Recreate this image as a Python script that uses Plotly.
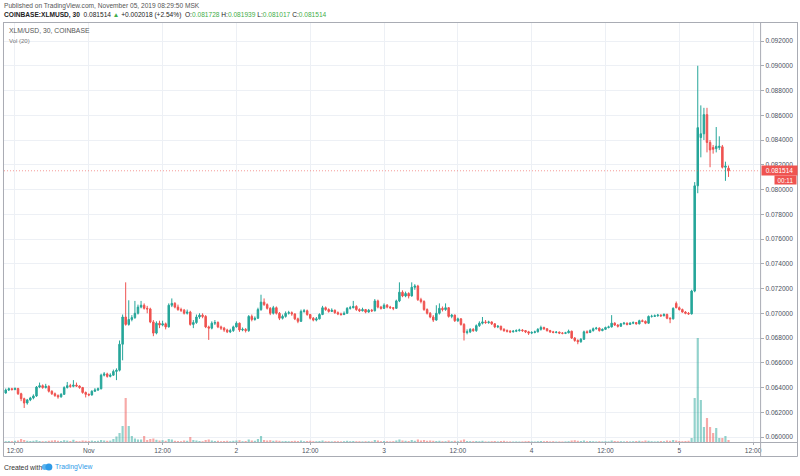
import pandas as pd
import plotly.graph_objects as go

# ---------------- data (prices in units of 0.00001 USD) ----------------
PRICE_UNIT = 1e-5
START = "2019-10-31 10:00"

opens = [
    6404, 6356, 6380, 6390, 6384, 6392, 6350, 6310, 6275, 6300,
    6316, 6332, 6404, 6415, 6400, 6410, 6370, 6350, 6335, 6325,
    6345, 6400, 6415, 6410, 6420, 6412, 6400, 6360, 6345, 6340,
    6370, 6380, 6390, 6500, 6510, 6490, 6500, 6530, 6540, 6750,
    6970, 6910, 6950, 6965, 7000, 7050, 7065, 7040, 7035, 6930,
    6840, 6920, 6905, 6915, 6890, 7065, 7080, 7050, 7030, 7025,
    7000, 7010, 6910, 6925, 6970, 6985, 6975, 6890, 6880, 6920,
    6925, 6890, 6880, 6865, 6850, 6860, 6890, 6920, 6865, 6870,
    6860, 6975, 6950, 6960, 7030, 7090, 7070, 7040, 7000, 7045,
    7000, 6960, 6975, 7000, 7005, 6995, 6955, 6935, 7015, 7020,
    6990, 6960, 6945, 6955, 6990, 7045, 7030, 7015, 7025, 7005,
    6995, 6990, 7000, 7040, 7045, 7055, 7030, 7020, 7030, 7010,
    7025, 7020, 7100, 7050, 7040, 7065, 7050, 7045, 7040, 7100,
    7170, 7140, 7160, 7140, 7210, 7220, 7110, 7095, 7030, 7000,
    6970, 6945, 7000, 7040, 7030, 7045, 6975, 6985, 6940, 6955,
    6910, 6845, 6850, 6870, 6860, 6900, 6920, 6930, 6925, 6930,
    6915, 6890, 6895, 6870, 6860, 6855, 6850, 6855, 6860, 6865,
    6860, 6850, 6840, 6845, 6850, 6870, 6885, 6875, 6860, 6850,
    6845, 6848, 6840, 6838, 6842, 6855, 6800, 6780, 6770, 6790,
    6850, 6845, 6860, 6875, 6880, 6860, 6870, 6885, 6890, 6920,
    6905, 6895, 6915, 6920, 6910, 6920, 6925, 6915, 6940, 6935,
    6920, 6975, 6975, 6980, 6985, 6980, 6990, 6960, 6955, 7080,
    7045, 7030, 7010, 7000, 6995, 7180, 8030, 8420, 8450, 8605,
    8380, 8340, 8330, 8340, 8345, 8180, 8172.8,
]

highs = [
    6420, 6392, 6400, 6398, 6402, 6398, 6358, 6318, 6308, 6325,
    6345, 6412, 6440, 6425, 6430, 6418, 6378, 6360, 6345, 6355,
    6410, 6445, 6430, 6460, 6440, 6418, 6405, 6368, 6352, 6378,
    6395, 6400, 6512, 6525, 6520, 6515, 6545, 6555, 6780, 6990,
    7250, 7105, 6985, 7100, 7070, 7100, 7080, 7060, 7045, 6945,
    6935, 6940, 6940, 6925, 7080, 7120, 7090, 7070, 7045, 7035,
    7030, 7020, 6945, 6990, 7000, 7000, 6985, 6900, 6935, 6945,
    6935, 6900, 6890, 6875, 6875, 6900, 6935, 6925, 6885, 6880,
    6985, 6990, 6975, 7045, 7150, 7120, 7080, 7050, 7060, 7055,
    7010, 6990, 7015, 7020, 7015, 7000, 6965, 7030, 7035, 7030,
    6995, 6970, 6970, 7000, 7060, 7055, 7040, 7040, 7030, 7015,
    7005, 7015, 7050, 7060, 7100, 7065, 7040, 7045, 7035, 7035,
    7035, 7115, 7110, 7060, 7080, 7075, 7060, 7050, 7110, 7250,
    7185, 7175, 7170, 7250, 7235, 7230, 7125, 7105, 7040, 7010,
    6985, 7065, 7080, 7055, 7080, 7050, 6995, 6990, 6965, 6960,
    6920, 6870, 6880, 6880, 6910, 6935, 6970, 6945, 6940, 6935,
    6920, 6905, 6900, 6880, 6870, 6865, 6865, 6870, 6875, 6872,
    6865, 6858, 6855, 6860, 6880, 6900, 6892, 6880, 6866, 6858,
    6856, 6852, 6848, 6850, 6868, 6860, 6808, 6790, 6800, 6860,
    6862, 6870, 6885, 6890, 6886, 6878, 6892, 6900, 6985, 6928,
    6912, 6922, 6930, 6926, 6928, 6935, 6930, 6948, 6950, 6942,
    6982, 6988, 6990, 6995, 6992, 7000, 6998, 6968, 7048, 7095,
    7055, 7038, 7018, 7010, 7190, 8060, 9000, 8680, 8660, 8660,
    8400, 8360, 8505, 8430, 8360, 8225, 8193.9,
]

lows = [
    6345, 6350, 6372, 6375, 6378, 6340, 6290, 6235, 6262, 6290,
    6305, 6325, 6395, 6390, 6392, 6360, 6340, 6325, 6310, 6318,
    6340, 6392, 6398, 6402, 6405, 6390, 6350, 6320, 6330, 6335,
    6365, 6372, 6385, 6490, 6480, 6482, 6495, 6460, 6530, 6620,
    6900, 6900, 6935, 6955, 6990, 7040, 7030, 7000, 6920, 6815,
    6830, 6880, 6895, 6870, 6885, 7050, 7040, 7020, 7010, 6990,
    6990, 6900, 6880, 6915, 6955, 6960, 6880, 6785, 6870, 6905,
    6880, 6865, 6850, 6840, 6840, 6850, 6885, 6850, 6855, 6845,
    6850, 6935, 6940, 6955, 7020, 7060, 7030, 6985, 6990, 6990,
    6945, 6950, 6965, 6990, 6980, 6945, 6920, 6930, 7005, 6980,
    6950, 6935, 6935, 6950, 6985, 7020, 7005, 7010, 6995, 6985,
    6980, 6985, 6995, 7030, 7040, 7020, 7010, 7015, 7000, 7005,
    7010, 7015, 7040, 7030, 7035, 7040, 7035, 7025, 7035, 7090,
    7130, 7130, 7120, 7135, 7190, 7100, 7080, 7020, 6990, 6960,
    6930, 6940, 6990, 7015, 7020, 6965, 6960, 6930, 6930, 6900,
    6780, 6830, 6840, 6850, 6850, 6890, 6910, 6915, 6915, 6905,
    6880, 6880, 6860, 6850, 6845, 6840, 6845, 6848, 6852, 6850,
    6840, 6825, 6832, 6838, 6845, 6860, 6865, 6852, 6842, 6838,
    6838, 6832, 6830, 6832, 6838, 6792, 6770, 6750, 6762, 6785,
    6835, 6840, 6852, 6868, 6852, 6855, 6865, 6878, 6885, 6898,
    6885, 6890, 6908, 6902, 6905, 6912, 6908, 6910, 6928, 6912,
    6915, 6965, 6970, 6972, 6970, 6975, 6952, 6920, 6950, 7040,
    7022, 7005, 6992, 6988, 6990, 7170, 7970, 8260, 8400, 8300,
    8180, 8290, 8300, 8320, 8170, 8070, 8101.7,
]

closes = [
    6356, 6380, 6390, 6384, 6392, 6350, 6310, 6275, 6300, 6316,
    6332, 6404, 6415, 6400, 6410, 6370, 6350, 6335, 6325, 6345,
    6400, 6415, 6410, 6420, 6412, 6400, 6360, 6345, 6340, 6370,
    6380, 6390, 6500, 6510, 6490, 6500, 6530, 6540, 6750, 6970,
    6910, 6950, 6965, 7000, 7050, 7065, 7040, 7035, 6930, 6840,
    6920, 6905, 6915, 6890, 7065, 7080, 7050, 7030, 7025, 7000,
    7010, 6910, 6925, 6970, 6985, 6975, 6890, 6880, 6920, 6925,
    6890, 6880, 6865, 6850, 6860, 6890, 6920, 6865, 6870, 6860,
    6975, 6950, 6960, 7030, 7090, 7070, 7040, 7000, 7045, 7000,
    6960, 6975, 7000, 7005, 6995, 6955, 6935, 7015, 7020, 6990,
    6960, 6945, 6955, 6990, 7045, 7030, 7015, 7025, 7005, 6995,
    6990, 7000, 7040, 7045, 7055, 7030, 7020, 7030, 7010, 7025,
    7020, 7100, 7050, 7040, 7065, 7050, 7045, 7040, 7100, 7170,
    7140, 7160, 7140, 7210, 7220, 7110, 7095, 7030, 7000, 6970,
    6945, 7000, 7040, 7030, 7045, 6975, 6985, 6940, 6955, 6910,
    6845, 6850, 6870, 6860, 6900, 6920, 6930, 6925, 6930, 6915,
    6890, 6895, 6870, 6860, 6855, 6850, 6855, 6860, 6865, 6860,
    6850, 6840, 6845, 6850, 6870, 6885, 6875, 6860, 6850, 6845,
    6848, 6840, 6838, 6842, 6855, 6800, 6780, 6770, 6790, 6850,
    6845, 6860, 6875, 6880, 6860, 6870, 6885, 6890, 6920, 6905,
    6895, 6915, 6920, 6910, 6920, 6925, 6915, 6940, 6935, 6920,
    6975, 6975, 6980, 6985, 6980, 6990, 6960, 6955, 7040, 7045,
    7030, 7010, 7000, 6995, 7180, 8030, 8500, 8450, 8605, 8380,
    8320, 8325, 8350, 8350, 8180, 8190, 8151.4,
]

volumes = [
    15, 8, 10, 8, 12, 15, 30, 20, 12, 10,
    12, 18, 10, 8, 8, 12, 15, 18, 12, 10,
    18, 14, 10, 22, 10, 8, 15, 12, 10, 14,
    10, 12, 20, 15, 12, 14, 30, 55, 90, 160,
    440, 160, 60, 35, 25, 25, 60, 20, 30, 35,
    22, 15, 18, 12, 30, 25, 12, 10, 8, 15,
    12, 50, 20, 15, 10, 8, 20, 25, 15, 10,
    12, 8, 10, 12, 8, 12, 15, 18, 8, 10,
    25, 15, 12, 30, 60, 20, 15, 18, 12, 15,
    12, 8, 10, 8, 10, 12, 10, 15, 8, 10,
    12, 8, 8, 10, 15, 8, 8, 6, 8, 8,
    6, 8, 12, 8, 10, 8, 8, 6, 8, 8,
    6, 20, 15, 8, 10, 8, 6, 8, 15, 25,
    15, 12, 10, 20, 12, 25, 15, 20, 12, 15,
    12, 10, 12, 8, 8, 15, 8, 12, 8, 15,
    25, 10, 8, 8, 10, 8, 12, 6, 6, 8,
    10, 6, 10, 12, 6, 6, 5, 6, 5, 6,
    8, 10, 6, 5, 8, 10, 8, 10, 6, 8,
    5, 6, 5, 6, 8, 15, 18, 12, 10, 15,
    8, 10, 8, 6, 8, 6, 8, 6, 15, 10,
    8, 8, 6, 8, 6, 8, 10, 12, 8, 15,
    12, 8, 6, 8, 10, 8, 15, 12, 20, 15,
    10, 8, 10, 12, 40, 440, 1040, 420, 150, 240,
    150, 90, 140, 40, 40, 60, 20,
]

x_tick_times = ["2019-10-31 12:00", "2019-11-01 00:00", "2019-11-01 12:00",
                "2019-11-02 00:00", "2019-11-02 12:00", "2019-11-03 00:00",
                "2019-11-03 12:00", "2019-11-04 00:00", "2019-11-04 12:00",
                "2019-11-05 00:00", "2019-11-05 12:00"]
x_tick_text = ["12:00", "Nov", "12:00", "2", "12:00", "3", "12:00", "4",
               "12:00", "5", "12:00"]
y_tick_vals = [0.060, 0.062, 0.064, 0.066, 0.068, 0.070, 0.072, 0.074,
               0.076, 0.078, 0.080, 0.082, 0.084, 0.086, 0.088, 0.090, 0.092]
y_tick_text = ["%.6f" % v for v in y_tick_vals]

# ---------------- styles ----------------
UP = "#26a69a"
DOWN = "#ef5350"
UP_VOL = "rgba(38,166,154,0.5)"
DOWN_VOL = "rgba(239,83,80,0.5)"
GRID = "#edf0f5"
FRAME = "#a9acb4"
TXT = "#4c525e"
FONT = "Liberation Sans, Arial, sans-serif"

W, H = 800, 476
PX_L, PX_R, PX_T, PX_B = 4, 762, 22, 442

o = [v * PRICE_UNIT for v in opens]
h = [v * PRICE_UNIT for v in highs]
l = [v * PRICE_UNIT for v in lows]
c = [v * PRICE_UNIT for v in closes]
times = pd.date_range(START, periods=len(closes), freq="30min")
vol_colors = [UP_VOL if cc >= oo else DOWN_VOL for oo, cc in zip(o, c)]

fig = go.Figure()
fig.add_trace(go.Bar(
    x=times, y=volumes, marker=dict(color=vol_colors, line=dict(width=0)),
    width=30 * 60 * 1000 * 0.7, xaxis="x", yaxis="y", hoverinfo="skip",
))
fig.add_trace(go.Candlestick(
    x=times, open=o, high=h, low=l, close=c, xaxis="x", yaxis="y2",
    increasing=dict(line=dict(color=UP, width=1), fillcolor=UP),
    decreasing=dict(line=dict(color=DOWN, width=1), fillcolor=DOWN),
    whiskerwidth=0,
))

def px_x(px):
    return px / W

def px_y(py):
    return 1 - py / H

last_price = c[-1]
last_color = UP if c[-1] >= o[-1] else DOWN

shapes = [
    # dotted last-price line
    dict(type="line", xref="paper", yref="y2", x0=px_x(PX_L), x1=px_x(PX_R),
         y0=last_price, y1=last_price,
         line=dict(color="rgba(239,83,80,0.6)", width=1, dash="1px,2px")),
    # frame
    dict(type="line", xref="paper", yref="paper", x0=px_x(3.5), x1=px_x(3.5),
         y0=px_y(22), y1=px_y(456.5), line=dict(color=FRAME, width=1)),
    dict(type="line", xref="paper", yref="paper", x0=px_x(3.5), x1=px_x(799.5),
         y0=px_y(22.5), y1=px_y(22.5), line=dict(color=FRAME, width=1)),
    dict(type="line", xref="paper", yref="paper", x0=px_x(762.5), x1=px_x(762.5),
         y0=px_y(22), y1=px_y(456.5), line=dict(color=FRAME, width=1)),
    dict(type="line", xref="paper", yref="paper", x0=px_x(3.5), x1=px_x(799.5),
         y0=px_y(442.5), y1=px_y(442.5), line=dict(color=FRAME, width=1)),
    dict(type="line", xref="paper", yref="paper", x0=px_x(3.5), x1=px_x(799.5),
         y0=px_y(456.5), y1=px_y(456.5), line=dict(color=FRAME, width=1)),
    dict(type="line", xref="paper", yref="paper", x0=px_x(799.5), x1=px_x(799.5),
         y0=px_y(22), y1=px_y(456.5), line=dict(color=FRAME, width=1)),
    # small cloud logo next to "Created with"
    dict(type="circle", xref="paper", yref="paper", x0=px_x(42), x1=px_x(48),
         y0=px_y(470), y1=px_y(464), fillcolor="#5bb4ee", line=dict(width=0)),
    dict(type="circle", xref="paper", yref="paper", x0=px_x(45.5), x1=px_x(52.5),
         y0=px_y(470.5), y1=px_y(463.5), fillcolor="#2f9be8", line=dict(width=0)),
]

G = "#3fae49"
line2 = ("<b>COINBASE:XLMUSD, 30</b>  0.081514 <span style='color:%s'>▲</span> "
         "+0.002018 (+2.54%%)  O:<span style='color:%s'>0.081728</span> "
         "H:<span style='color:%s'>0.081939</span> L:<span style='color:%s'>0.081017</span> "
         "C:<span style='color:%s'>0.081514</span>") % (G, G, G, G, G)

annotations = [
    dict(text="Published on TradingView.com, November 05, 2019 08:29:50 MSK",
         xref="paper", yref="paper", x=px_x(2), y=px_y(6), xanchor="left",
         yanchor="middle", showarrow=False, font=dict(size=6.6, color="#555555")),
    dict(text=line2, xref="paper", yref="paper", x=px_x(2), y=px_y(15.5),
         xanchor="left", yanchor="middle", showarrow=False,
         font=dict(size=6.6, color="#222222")),
    dict(text="XLM/USD, 30, COINBASE", xref="paper", yref="paper", x=px_x(7),
         y=px_y(31), xanchor="left", yanchor="middle", showarrow=False,
         font=dict(size=6.8, color="#555555")),
    dict(text="Vol (20)", xref="paper", yref="paper", x=px_x(7), y=px_y(40.5),
         xanchor="left", yanchor="middle", showarrow=False,
         font=dict(size=6.0, color="#777777")),
    dict(text="%.6f" % last_price, xref="paper", yref="y2", x=px_x(763),
         y=last_price, xanchor="left", yanchor="middle", showarrow=False,
         bgcolor=last_color, width=35, height=9, borderpad=0,
         font=dict(size=6.5, color="white")),
    dict(text="00:11", xref="paper", yref="y2", x=px_x(775.5), y=last_price,
         yshift=-9.5, xanchor="left", yanchor="middle", showarrow=False,
         bgcolor=last_color, width=21, height=8, borderpad=0,
         font=dict(size=6.3, color="white")),
    dict(text="Created with", xref="paper", yref="paper", x=px_x(2), y=px_y(467),
         xanchor="left", yanchor="middle", showarrow=False,
         font=dict(size=6.8, color="#333333")),
    dict(text="TradingView", xref="paper", yref="paper", x=px_x(53), y=px_y(467),
         xanchor="left", yanchor="middle", showarrow=False,
         font=dict(size=6.8, color="#2f9be8")),
]

fig.update_layout(
    width=W, height=H, margin=dict(l=0, r=0, t=0, b=0),
    paper_bgcolor="white", plot_bgcolor="white", showlegend=False,
    font=dict(family=FONT, size=7, color=TXT),
    barmode="overlay",
    xaxis=dict(
        domain=[px_x(PX_L), px_x(PX_R)], type="date",
        range=["2019-10-31 10:13", "2019-11-05 13:08"],
        tickvals=x_tick_times, ticktext=x_tick_text,
        showgrid=True, gridcolor=GRID, gridwidth=1, zeroline=False,
        ticks="outside", ticklen=2, tickcolor=FRAME,
        tickfont=dict(size=6.6, color=TXT), showline=False,
        rangeslider=dict(visible=False), fixedrange=True,
    ),
    yaxis=dict(
        domain=[1 - PX_B / H, 1 - PX_T / H], range=[0, 4200], visible=False,
        showgrid=False, zeroline=False, fixedrange=True,
    ),
    yaxis2=dict(
        overlaying="y", side="right", anchor="x",
        range=[0.05960, 0.093535], tickvals=y_tick_vals, ticktext=y_tick_text,
        showgrid=True, gridcolor=GRID, gridwidth=1, zeroline=False,
        ticks="outside", ticklen=3, tickcolor=FRAME,
        tickfont=dict(size=6.6, color=TXT), showline=False, fixedrange=True,
    ),
    shapes=shapes, annotations=annotations,
)

fig.write_html("out.html")
